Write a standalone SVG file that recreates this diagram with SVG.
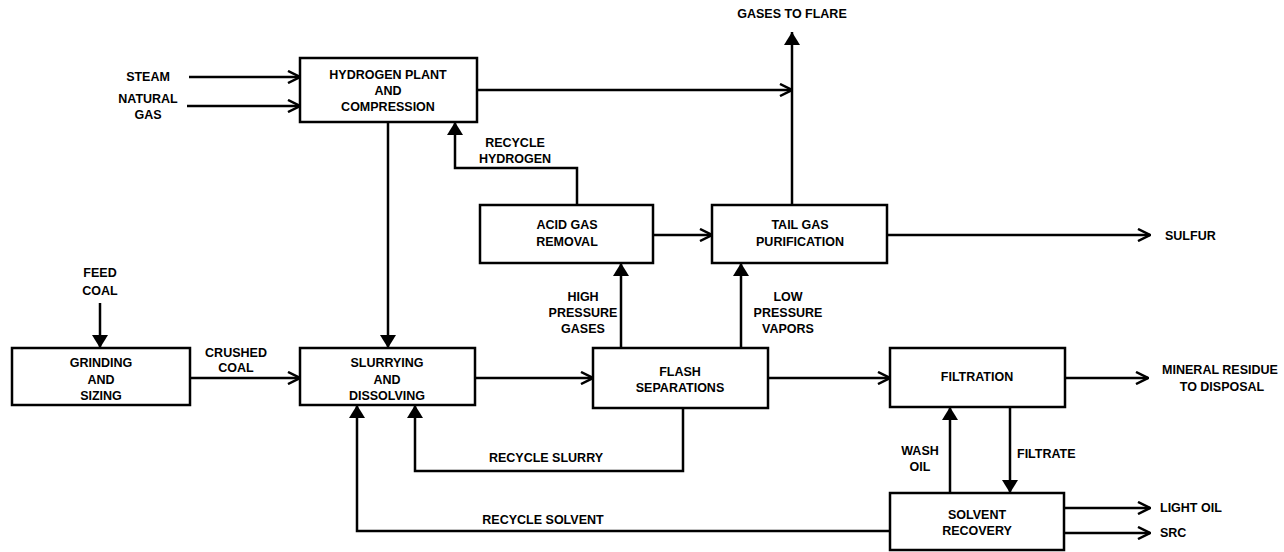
<svg xmlns="http://www.w3.org/2000/svg" width="1284" height="552" viewBox="0 0 1284 552">
<defs>
<style>
.box{fill:#fff;stroke:#000;stroke-width:2.5}
.ln{fill:none;stroke:#000;stroke-width:2.5}
text{font-family:"Liberation Sans",Arial,sans-serif;font-weight:bold;font-size:12.5px;fill:#000;dominant-baseline:central}
.c{text-anchor:middle}
</style>
<marker id="open" viewBox="0 0 14 14" refX="13" refY="7" markerWidth="14" markerHeight="14" markerUnits="userSpaceOnUse" orient="auto">
<path d="M1,1 L13,7 L1,13" fill="none" stroke="#000" stroke-width="2.5"/>
</marker>
<marker id="fill" viewBox="0 0 13 16" refX="13" refY="8" markerWidth="13" markerHeight="16" markerUnits="userSpaceOnUse" orient="auto">
<path d="M0,0 L13,8 L0,16 z" fill="#000"/>
</marker>
</defs>
<rect width="1284" height="552" fill="#fff"/>
<g id="connectors">
<path class="ln" d="M189,77 H300" marker-end="url(#open)"/>
<path class="ln" d="M187,106 H300" marker-end="url(#open)"/>
<path class="ln" d="M388,122 V348" marker-end="url(#fill)"/>
<path class="ln" d="M577,205 V168 H455 V122" marker-end="url(#fill)"/>
<path class="ln" d="M477,90 H792" marker-end="url(#open)"/>
<path class="ln" d="M792,205 V32" marker-end="url(#fill)"/>
<path class="ln" d="M653,235 H712" marker-end="url(#open)"/>
<path class="ln" d="M887,235 H1150" marker-end="url(#open)"/>
<path class="ln" d="M100,303 V348" marker-end="url(#fill)"/>
<path class="ln" d="M190,378 H300" marker-end="url(#open)"/>
<path class="ln" d="M475,378 H593" marker-end="url(#open)"/>
<path class="ln" d="M621,348 V263" marker-end="url(#fill)"/>
<path class="ln" d="M741,348 V263" marker-end="url(#fill)"/>
<path class="ln" d="M768,378 H890" marker-end="url(#open)"/>
<path class="ln" d="M1065,378 H1148" marker-end="url(#open)"/>
<path class="ln" d="M950,493 V407" marker-end="url(#fill)"/>
<path class="ln" d="M1010,407 V493" marker-end="url(#fill)"/>
<path class="ln" d="M1064,508 H1150" marker-end="url(#open)"/>
<path class="ln" d="M1064,533 H1150" marker-end="url(#open)"/>
<path class="ln" d="M683,408 V471 H415 V405" marker-end="url(#fill)"/>
<path class="ln" d="M890,531 H357 V405" marker-end="url(#fill)"/>
</g>
<g id="labels">
<text class="c" x="148" y="77">STEAM</text>
<text class="c" x="148" y="99">NATURAL</text>
<text class="c" x="148" y="115">GAS</text>
<text class="c" x="792" y="14">GASES TO FLARE</text>
<text class="c" x="515" y="143">RECYCLE</text>
<text class="c" x="515" y="159">HYDROGEN</text>
<text x="1165" y="236">SULFUR</text>
<text class="c" x="100" y="273">FEED</text>
<text class="c" x="100" y="291">COAL</text>
<text class="c" x="236" y="353">CRUSHED</text>
<text class="c" x="236" y="368">COAL</text>
<text class="c" x="583" y="297">HIGH</text>
<text class="c" x="583" y="313">PRESSURE</text>
<text class="c" x="583" y="329">GASES</text>
<text class="c" x="788" y="297">LOW</text>
<text class="c" x="788" y="313">PRESSURE</text>
<text class="c" x="788" y="329">VAPORS</text>
<text class="c" x="1220" y="370">MINERAL RESIDUE</text>
<text class="c" x="1222" y="387">TO DISPOSAL</text>
<text class="c" x="920" y="451">WASH</text>
<text class="c" x="920" y="467">OIL</text>
<text x="1017" y="454">FILTRATE</text>
<text x="1160" y="508">LIGHT OIL</text>
<text x="1160" y="533">SRC</text>
<text class="c" x="546" y="458">RECYCLE SLURRY</text>
<text class="c" x="543" y="520">RECYCLE SOLVENT</text>
</g>
<g id="hydrogen-plant">
<rect class="box" x="300" y="58" width="177" height="64"/>
<text class="c" x="388" y="75">HYDROGEN PLANT</text>
<text class="c" x="388" y="91">AND</text>
<text class="c" x="388" y="107">COMPRESSION</text>
</g>
<g id="acid-gas-removal">
<rect class="box" x="480" y="205" width="173" height="58"/>
<text class="c" x="567" y="225">ACID GAS</text>
<text class="c" x="567" y="242">REMOVAL</text>
</g>
<g id="tail-gas-purification">
<rect class="box" x="712" y="205" width="175" height="58"/>
<text class="c" x="800" y="225">TAIL GAS</text>
<text class="c" x="800" y="242">PURIFICATION</text>
</g>
<g id="grinding">
<rect class="box" x="12" y="348" width="178" height="57"/>
<text class="c" x="101" y="363">GRINDING</text>
<text class="c" x="101" y="380">AND</text>
<text class="c" x="101" y="396">SIZING</text>
</g>
<g id="slurrying">
<rect class="box" x="300" y="348" width="175" height="57"/>
<text class="c" x="387" y="363">SLURRYING</text>
<text class="c" x="387" y="380">AND</text>
<text class="c" x="387" y="396">DISSOLVING</text>
</g>
<g id="flash-separations">
<rect class="box" x="593" y="348" width="175" height="60"/>
<text class="c" x="680" y="372">FLASH</text>
<text class="c" x="680" y="388">SEPARATIONS</text>
</g>
<g id="filtration">
<rect class="box" x="890" y="348" width="175" height="59"/>
<text class="c" x="977" y="377">FILTRATION</text>
</g>
<g id="solvent-recovery">
<rect class="box" x="890" y="493" width="174" height="57"/>
<text class="c" x="977" y="515">SOLVENT</text>
<text class="c" x="977" y="531">RECOVERY</text>
</g>
</svg>
